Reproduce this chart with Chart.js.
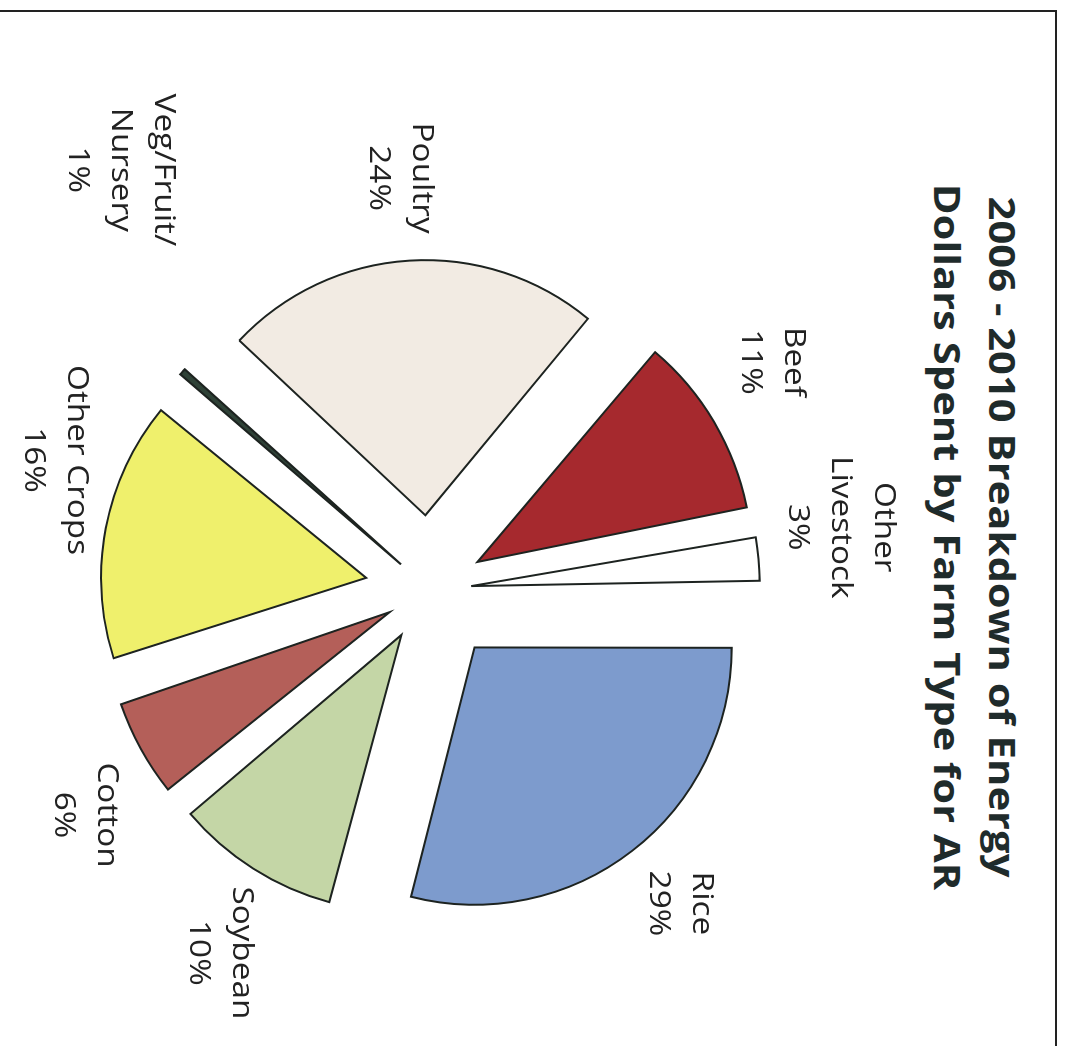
<!DOCTYPE html>
<html>
<head>
<meta charset="utf-8">
<script src="https://cdn.jsdelivr.net/npm/chart.js@4.4.1/dist/chart.umd.min.js"></script>
<style>
  html, body { margin: 0; padding: 0; background: #fff; overflow: hidden; }
  /* the scan is turned a quarter clockwise, so the whole page is too */
  #page {
    position: absolute; left: 0; top: 0;
    width: 1046px; height: 1066px;
    transform-origin: 0 0;
    transform: translateX(1066px) rotate(90deg);
    background: #fff;
  }
  #frame {
    position: absolute; left: 10px; top: 9px; right: -10px; bottom: -10px;
    border-top: 2px solid #222; border-left: 2px solid #222;
  }
  #title {
    position: absolute; left: 0; top: 36px; width: 1074px;
    text-align: center; font: bold 36px "Open Sans", sans-serif;
    line-height: 55px; color: #1f2b2b;
    transform: scaleX(1.16); transform-origin: 537px 0;
  }
  #chart { position: absolute; left: 0; top: 0; }
</style>
</head>
<body>
<div id="page">
  <div id="frame"></div>
  <div id="title">2006 - 2010 Breakdown of Energy<br>Dollars Spent by Farm Type for AR</div>
  <canvas id="chart" width="1046" height="1066"></canvas>
</div>
<script>
// =====================
// DATA
// =====================
const farmTypes = ['Rice', 'Soybean', 'Cotton', 'Other Crops', 'Veg/Fruit/ Nursery', 'Poultry', 'Beef', 'Other Livestock'];
const sharePct = [29, 10, 6, 16, 1, 24, 11, 3];
const labelLines = [['Rice'], ['Soybean'], ['Cotton'], ['Other Crops'], ['Veg/Fruit/', 'Nursery'], ['Poultry'], ['Beef'], ['Other', 'Livestock']];
const sliceColors = ['#7d9bcd', '#c4d6a6', '#b45f59', '#eff06c', '#2f4237', '#f2ebe3', '#a6292e', '#ffffff'];

// label placement round the pie (distance from centre, turn from mid angle in degrees)
const labelDist = [401, 419, 412, 397, 522, 413, 411, 415];
const labelTurn = [-0.8, -2.4, -4.3, 8.3, 12.2, -0.6, -3.1, -3.3];

const EXPLODE = 75; // px each slice is pulled out

// chart.js moves an arc by offset/4 * (2 - sin(angle)), so undo that
function sliceOffset(ctx) {
  const sweep = Math.min(Math.PI, sharePct[ctx.dataIndex] / 100 * 2 * Math.PI);
  return 4 * EXPLODE / (2 - Math.sin(sweep));
}

// =====================
// LABELS
// =====================
const sliceLabels = {
  id: 'sliceLabels',
  afterDatasetsDraw(chart) {
    const ctx = chart.ctx;
    const arcs = chart.getDatasetMeta(0).data;
    ctx.save();
    ctx.font = '30px "Open Sans", sans-serif';
    ctx.fillStyle = '#222';
    ctx.textAlign = 'center';
    ctx.textBaseline = 'middle';
    arcs.forEach((arc, i) => {
      const mid = (arc.startAngle + arc.endAngle) / 2 + labelTurn[i] * Math.PI / 180;
      const x = arc.x + Math.cos(mid) * labelDist[i];
      const y = arc.y + Math.sin(mid) * labelDist[i];
      const lines = labelLines[i].concat(sharePct[i] + '%');
      lines.forEach((t, k) => {
        ctx.save();
        ctx.translate(x, y + (k - (lines.length - 1) / 2) * 43);
        ctx.scale(1.11, 1); // scan text is a little wide
        ctx.fillText(t, 0, 0);
        ctx.restore();
      });
    });
    ctx.restore();
  }
};

// =====================
// CHART
// =====================
new Chart(document.getElementById('chart'), {
  type: 'pie',
  data: {
    labels: farmTypes,
    datasets: [{
      data: sharePct,
      backgroundColor: sliceColors,
      borderColor: '#1d2320',
      borderWidth: 2,
      borderJoinStyle: 'miter',
      offset: sliceOffset
    }]
  },
  options: {
    responsive: false,
    animation: false,
    radius: 255,
    layout: { padding: { left: 190, right: 56, top: 236, bottom: 30 } },
    plugins: {
      legend: { display: false },
      tooltip: { enabled: false }
    }
  },
  plugins: [sliceLabels]
});
</script>
</body>
</html>
